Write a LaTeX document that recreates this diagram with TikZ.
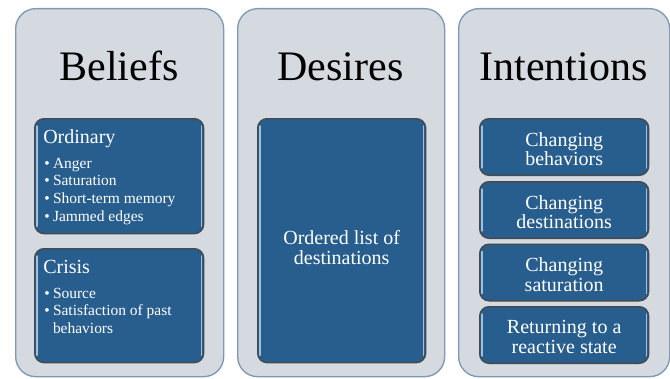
\documentclass[tikz,border=0pt]{standalone}
\usepackage{fontspec}
\setmainfont{Liberation Serif}
\definecolor{panelfill}{RGB}{213,217,224}
\definecolor{panelline}{RGB}{127,152,181}
\definecolor{boxfill}{RGB}{40,94,142}
\definecolor{boxline}{RGB}{70,72,76}
\definecolor{gloss}{RGB}{160,192,226}
\tikzset{
  panel/.style={draw=panelline, fill=panelfill, line width=1pt, rounded corners=15pt, anchor=north west, inner sep=0pt},
  item/.style={draw=boxline, fill=boxfill, line width=1pt, rounded corners=7pt, anchor=north west, inner sep=0pt},
  heading/.style={anchor=base, inner sep=0pt, font=\fontsize{31.5}{31.5}\selectfont},
  itemtext/.style={text=white, align=center, inner sep=0pt, font=\fontsize{15}{14.6}\selectfont},
  listtitle/.style={text=white, anchor=base west, inner sep=0pt, font=\fontsize{15}{15}\selectfont},
  listtext/.style={text=white, anchor=base west, inner sep=0pt, font=\fontsize{11.6}{13.4}\selectfont}
}
\begin{document}
\begin{tikzpicture}[x=0.75pt,y=-0.75pt]
\useasboundingbox (0,0) rectangle (670,378);
% the three columns
\node[panel, minimum width=156pt, minimum height=276pt] (beliefs) at (15,8) {};
\node[panel, minimum width=155.25pt, minimum height=276pt] (desires) at (237,8) {};
\node[panel, minimum width=158.25pt, minimum height=276pt] (intentions) at (458,8) {};
\node[heading] (tbel) at (119,80) {Beliefs};
\node[heading] (tdes) at (340.5,80) {Desires};
\node[heading] (tint) at (563.5,80) {Intentions};
% beliefs
\node[item, minimum width=126.75pt, minimum height=86.25pt] (ord) at (34,118) {};
\node[item, minimum width=126.75pt, minimum height=85.5pt] (cri) at (34,248) {};
\node[listtitle] (tord) at (43,143) {Ordinary};
\node[listtext] (lord) at (44,168) {\begin{tabular}[t]{@{}l@{\hspace{2.5pt}}l@{}}
\textbullet & Anger\\ \textbullet & Saturation\\ \textbullet & Short-term memory\\ \textbullet & Jammed edges
\end{tabular}};
\node[listtitle] (tcri) at (43,273) {Crisis};
\node[listtext] (lcri) at (44,298) {\begin{tabular}[t]{@{}l@{\hspace{2.5pt}}l@{}}
\textbullet & Source\\ \textbullet & Satisfaction of past\\ & behaviors
\end{tabular}};
% desires
\node[item, minimum width=126pt, minimum height=183pt] (dest) at (257,118) {};
\node[itemtext] at ([yshift=-5pt]dest.center) {Ordered list of\\destinations};
% intentions
\node[item, minimum width=126.75pt, minimum height=42.5pt] (beh) at (479,118) {};
\node[item, minimum width=126.75pt, minimum height=42.5pt] (chd) at (479,181) {};
\node[item, minimum width=126.75pt, minimum height=42.5pt] (sat) at (479,243.5) {};
\node[item, minimum width=126.75pt, minimum height=42.5pt] (ret) at (479,306) {};
\node[itemtext] at ([yshift=-1.5pt]beh.center) {Changing\\behaviors};
\node[itemtext] at ([yshift=-1.5pt]chd.center) {Changing\\destinations};
\node[itemtext] at ([yshift=-1.5pt]sat.center) {Changing\\saturation};
\node[itemtext] at ([yshift=-1.5pt]ret.center) {Returning to a\\reactive state};
% glossy edges
\foreach \b in {ord,cri,dest,beh,chd,sat,ret}{
  \draw[gloss, line width=0.9pt, line cap=round] ([xshift=2.2pt,yshift=-6pt]\b.north west) -- ([xshift=2.2pt,yshift=6pt]\b.south west);
  \draw[gloss, line width=0.9pt, line cap=round] ([xshift=-2.2pt,yshift=-6pt]\b.north east) -- ([xshift=-2.2pt,yshift=6pt]\b.south east);
}
\end{tikzpicture}
\end{document}
